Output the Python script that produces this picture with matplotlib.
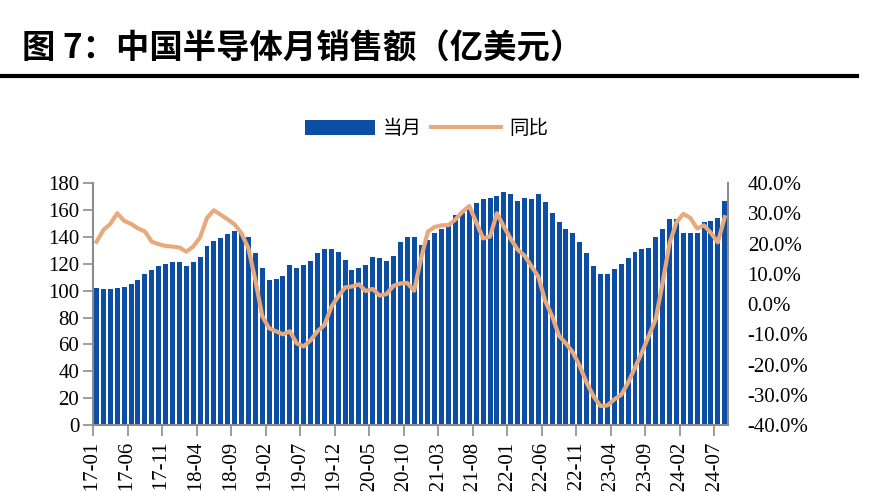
"""China semiconductor monthly sales (USD 100m) with YoY growth line."""

import matplotlib

matplotlib.use("Agg")

import matplotlib.pyplot as plt  # noqa: E402
import numpy as np  # noqa: E402
from matplotlib.lines import Line2D  # noqa: E402
from matplotlib.patches import Patch  # noqa: E402
from matplotlib.ticker import FuncFormatter  # noqa: E402

CJK = ["Noto Sans CJK SC", "DejaVu Sans"]
SERIF = ["Liberation Serif", "DejaVu Serif"]

# months 2017-01 .. 2024-08
MONTHS = [f"{y}-{m:02d}" for y in range(2017, 2025) for m in range(1, 13)][:92]

# monthly sales, 亿美元
SALES = [
    102, 101, 101, 102, 103, 105, 108, 112, 115, 118, 120, 121,  # 2017
    121, 118, 121, 125, 133, 137, 139, 142, 144, 143, 140, 128,  # 2018
    117, 108, 109, 111, 119, 117, 119, 122, 128, 131, 131, 129,  # 2019
    123, 115, 117, 119, 125, 124, 122, 126, 136, 140, 140, 134,  # 2020
    138, 143, 146, 149, 156, 158, 162, 165, 168, 169, 170, 173,  # 2021
    172, 167, 169, 168, 172, 166, 158, 151, 146, 143, 136, 128,  # 2022
    118, 112, 112, 116, 120, 124, 129, 131, 132, 140, 146, 153,  # 2023
    153, 143, 143, 143, 151, 152, 154, 167,                      # 2024
]

# year-over-year growth, %
YOY = [
    20.6, 24.5, 26.5, 30.0, 27.5, 26.5, 25.0, 24.0, 20.6, 19.8, 19.2, 19.0,
    18.7, 17.3, 19.0, 22.0, 28.5, 31.0, 29.5, 28.0, 26.3, 23.4, 18.4, 8.0,
    -4.0, -8.0, -9.0, -10.0, -9.0, -13.0, -14.0, -12.0, -9.0, -7.0, -1.0, 2.5,
    5.5, 5.8, 6.5, 4.3, 5.0, 2.8, 3.3, 6.0, 6.8, 7.0, 4.4, 15.0,
    24.0, 25.5, 26.0, 26.1, 28.0, 30.5, 32.4, 27.0, 21.7, 22.3, 30.0, 25.6,
    21.5, 18.0, 16.0, 12.5, 9.0, 1.0, -4.0, -10.5, -13.0, -16.0, -20.5, -26.0,
    -30.5, -33.7, -33.5, -31.5, -30.0, -26.0, -21.0, -16.0, -10.5, -5.0, 7.0, 20.0,
    27.0, 29.8, 28.5, 25.0, 26.0, 23.5, 20.4, 28.7,
]

LEFT_TICKS = list(range(0, 181, 20))
RIGHT_TICKS = list(range(-40, 41, 10))

BAR_COLOR = "#0B4EA3"
LINE_COLOR = "#E8AA7C"
SPINE_COLOR = "#8C8C8C"
TICK_SIZE = 15

fig = plt.figure(figsize=(8.7, 4.92), dpi=100)

# title and rule
fig.text(0.025, 0.900, "图 7：中国半导体月销售额（亿美元）", family=CJK,
         fontsize=24, fontweight="bold", va="center", ha="left")
fig.add_artist(Line2D([0.0, 0.985], [0.845, 0.845], color="black", lw=3,
                      transform=fig.transFigure))

ax = fig.add_axes((0.107, 0.136, 0.730, 0.492))
x = np.arange(len(SALES))
ax.bar(x, SALES, width=0.72, color=BAR_COLOR, zorder=2)
ax.set_xlim(-0.5, len(SALES) - 0.5)
ax.set_ylim(0, 180)
ax.set_yticks(LEFT_TICKS)

tick_idx = list(range(0, len(MONTHS), 5))
ax.set_xticks([i - 0.5 for i in tick_idx])
ax.set_xticklabels([MONTHS[i] for i in tick_idx], rotation=90, family=SERIF,
                   fontsize=TICK_SIZE)

ax2 = ax.twinx()
ax2.plot(x, YOY, color=LINE_COLOR, lw=3, zorder=3, solid_joinstyle="round")
ax2.set_ylim(-40, 40)
ax2.set_yticks(RIGHT_TICKS)
ax2.yaxis.set_major_formatter(FuncFormatter(lambda v, _: f"{v:.1f}%"))

for a in (ax, ax2):
    a.spines["top"].set_visible(False)
    for side in ("left", "right", "bottom"):
        a.spines[side].set_color(SPINE_COLOR)
        a.spines[side].set_linewidth(1.5)
ax.spines["right"].set_visible(False)
ax2.spines["left"].set_visible(False)
ax2.spines["bottom"].set_visible(False)

ax.tick_params(axis="y", direction="out", length=7, width=1.2, color=SPINE_COLOR,
               pad=3, labelsize=TICK_SIZE)
ax.tick_params(axis="x", direction="out", length=8, width=1.2, color=SPINE_COLOR,
               pad=4)
ax2.tick_params(axis="y", length=0, pad=14, labelsize=TICK_SIZE)
for lbl in ax.get_yticklabels() + ax2.get_yticklabels():
    lbl.set_family(SERIF)

handles = [Patch(facecolor=BAR_COLOR, edgecolor="none"),
           Line2D([], [], color=LINE_COLOR, lw=3)]
fig.legend(handles, ["当月", "同比"], loc="center", bbox_to_anchor=(0.49, 0.738),
           ncol=2, frameon=False, prop={"family": CJK, "size": 14},
           handlelength=3.6, handleheight=0.85, columnspacing=0.5,
           handletextpad=0.4)

fig.savefig("out.png", dpi=100)
